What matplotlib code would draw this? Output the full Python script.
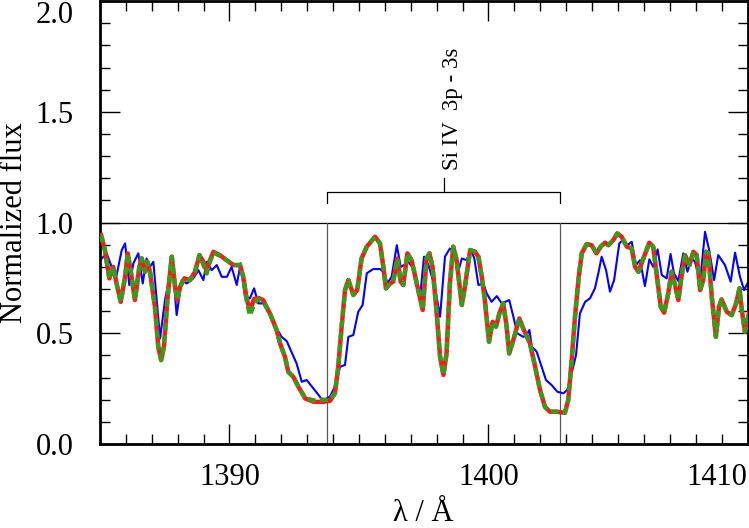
import numpy as np
import matplotlib
matplotlib.use("Agg")
import matplotlib.pyplot as plt
from matplotlib.ticker import MultipleLocator, FixedLocator

# observed spectrum (blue)
obs_wave = [1385.0, 1385.26, 1385.45, 1385.62, 1385.84, 1385.97, 1386.13, 1386.29, 1386.48, 1386.65,
            1386.80, 1386.93, 1387.06, 1387.32, 1387.51, 1387.70, 1387.83, 1387.96, 1388.15, 1388.35,
            1388.60, 1388.80, 1388.99, 1389.12, 1389.31, 1389.51, 1389.70, 1389.90, 1390.08, 1390.28,
            1390.43, 1390.60, 1390.79, 1390.95, 1391.11, 1391.30, 1391.56, 1391.82, 1392.01, 1392.21,
            1392.34, 1392.59, 1392.79, 1392.98, 1393.24, 1393.49, 1393.62, 1393.75, 1393.88, 1394.07,
            1394.27, 1394.46, 1394.59, 1394.78, 1394.97, 1395.14, 1395.30, 1395.55, 1395.81, 1396.00,
            1396.09, 1396.26, 1396.46, 1396.61, 1396.74, 1396.90, 1397.10, 1397.36, 1397.51, 1397.68,
            1397.93, 1398.13, 1398.32, 1398.51, 1398.71, 1398.83, 1398.97, 1399.16, 1399.31, 1399.45,
            1399.61, 1399.80, 1399.93, 1400.12, 1400.32, 1400.51, 1400.80, 1400.96, 1401.11, 1401.34,
            1401.47, 1401.58, 1401.67, 1401.86, 1402.05, 1402.22, 1402.44, 1402.66, 1402.89, 1403.04,
            1403.21, 1403.38, 1403.53, 1403.73, 1403.92, 1404.11, 1404.24, 1404.37, 1404.54, 1404.69,
            1404.85, 1405.05, 1405.21, 1405.36, 1405.53, 1405.69, 1405.85, 1406.04, 1406.21, 1406.36,
            1406.53, 1406.69, 1406.88, 1407.03, 1407.16, 1407.33, 1407.52, 1407.68, 1407.85, 1407.97,
            1408.17, 1408.36, 1408.52, 1408.71, 1408.87, 1409.13, 1409.35, 1409.52, 1409.71, 1409.87,
            1410.06]
obs_flux = [0.83, 0.86, 0.80, 0.75, 0.876, 0.906, 0.718, 0.816, 0.861, 0.725,
            0.838, 0.80, 0.823, 0.477, 0.65, 0.763, 0.763, 0.582, 0.74, 0.725,
            0.748, 0.785, 0.74, 0.823, 0.785, 0.808, 0.755, 0.755, 0.80, 0.718,
            0.816, 0.665, 0.658, 0.703, 0.635, 0.635, 0.582, 0.522, 0.484, 0.465,
            0.43, 0.364, 0.281, 0.289, 0.251, 0.214, 0.184, 0.206, 0.214, 0.259,
            0.349, 0.357, 0.484, 0.492, 0.597, 0.628, 0.771, 0.79, 0.79, 0.771,
            0.725, 0.755, 0.898, 0.80, 0.808, 0.823, 0.793, 0.665, 0.846, 0.808,
            0.71, 0.575, 0.846, 0.883, 0.861, 0.778, 0.838, 0.83, 0.876, 0.84,
            0.718, 0.725, 0.68, 0.642, 0.668, 0.635, 0.65, 0.575, 0.50, 0.484,
            0.492, 0.515, 0.44, 0.417, 0.349, 0.289, 0.266, 0.236, 0.229, 0.244,
            0.319, 0.402, 0.59, 0.642, 0.658, 0.703, 0.771, 0.846, 0.785, 0.688,
            0.74, 0.906, 0.924, 0.898, 0.913, 0.808, 0.83, 0.713, 0.834, 0.80,
            0.879, 0.763, 0.748, 0.858, 0.771, 0.736, 0.861, 0.778, 0.838, 0.823,
            0.733, 0.958, 0.876, 0.74, 0.853, 0.808, 0.733, 0.864, 0.755, 0.695,
            0.74]

# model spectra (red and green dashed)
mod_wave = [1385.04, 1385.19, 1385.36, 1385.51, 1385.64, 1385.80, 1385.97, 1386.07, 1386.19, 1386.35,
            1386.52, 1386.61, 1386.74, 1386.83, 1386.93, 1387.12, 1387.25, 1387.36, 1387.47, 1387.60,
            1387.77, 1387.90, 1387.99, 1388.09, 1388.26, 1388.47, 1388.67, 1388.84, 1388.99, 1389.12,
            1389.22, 1389.38, 1389.63, 1389.89, 1390.15, 1390.41, 1390.53, 1390.66, 1390.79, 1390.95,
            1391.11, 1391.30, 1391.56, 1391.82, 1391.95, 1392.14, 1392.27, 1392.46, 1392.66, 1392.92,
            1393.24, 1393.56, 1393.88, 1394.07, 1394.20, 1394.33, 1394.46, 1394.59, 1394.78, 1394.93,
            1395.10, 1395.30, 1395.62, 1395.81, 1395.94, 1396.04, 1396.20, 1396.32, 1396.48, 1396.61,
            1396.71, 1396.87, 1397.03, 1397.23, 1397.46, 1397.61, 1397.72, 1397.84, 1398.00, 1398.13,
            1398.26, 1398.38, 1398.51, 1398.64, 1398.77, 1398.97, 1399.09, 1399.29, 1399.48, 1399.61,
            1399.74, 1399.86, 1400.02, 1400.16, 1400.29, 1400.42, 1400.57, 1400.70, 1400.80, 1400.96,
            1401.19, 1401.34, 1401.60, 1401.80, 1401.99, 1402.18, 1402.37, 1402.63, 1402.95, 1403.08,
            1403.21, 1403.34, 1403.47, 1403.60, 1403.79, 1403.98, 1404.17, 1404.33, 1404.50, 1404.63,
            1404.82, 1404.97, 1405.14, 1405.34, 1405.53, 1405.66, 1405.79, 1405.98, 1406.21, 1406.36,
            1406.52, 1406.65, 1406.78, 1406.94, 1407.07, 1407.20, 1407.33, 1407.46, 1407.59, 1407.76,
            1407.91, 1408.04, 1408.17, 1408.29, 1408.40, 1408.49, 1408.62, 1408.78, 1408.90, 1409.00,
            1409.20, 1409.39, 1409.56, 1409.69, 1409.78, 1409.90, 1410.06]
mod_red = [0.944, 0.876, 0.748, 0.80, 0.725, 0.642, 0.755, 0.861, 0.778, 0.65,
           0.80, 0.838, 0.778, 0.823, 0.778, 0.62, 0.44, 0.379, 0.44, 0.65,
           0.846, 0.71, 0.65, 0.71, 0.748, 0.74, 0.778, 0.853, 0.823, 0.778,
           0.823, 0.868, 0.853, 0.83, 0.808, 0.808, 0.755, 0.66, 0.60, 0.655,
           0.66, 0.65, 0.59, 0.515, 0.455, 0.394, 0.326, 0.304, 0.259, 0.206,
           0.191, 0.19, 0.195, 0.229, 0.349, 0.53, 0.695, 0.74, 0.673, 0.695,
           0.838, 0.891, 0.936, 0.906, 0.80, 0.703, 0.725, 0.733, 0.838, 0.733,
           0.718, 0.861, 0.83, 0.725, 0.605, 0.838, 0.861, 0.80, 0.59, 0.394,
           0.312, 0.409, 0.725, 0.891, 0.83, 0.628, 0.71, 0.876, 0.868, 0.846,
           0.755, 0.65, 0.462, 0.552, 0.53, 0.59, 0.635, 0.53, 0.409, 0.47,
           0.567, 0.522, 0.455, 0.349, 0.244, 0.168, 0.146, 0.146, 0.141, 0.199,
           0.379, 0.575, 0.74, 0.861, 0.903, 0.898, 0.861, 0.891, 0.909, 0.898,
           0.921, 0.951, 0.936, 0.891, 0.883, 0.80, 0.778, 0.838, 0.909, 0.891,
           0.74, 0.62, 0.593, 0.68, 0.778, 0.718, 0.65, 0.763, 0.853, 0.808,
           0.868, 0.853, 0.695, 0.74, 0.868, 0.861, 0.665, 0.484, 0.62, 0.653,
           0.597, 0.582, 0.635, 0.703, 0.605, 0.507, 0.59]
mod_green = [0.944, 0.876, 0.748, 0.80, 0.725, 0.642, 0.755, 0.861, 0.778, 0.65,
             0.80, 0.838, 0.778, 0.823, 0.778, 0.62, 0.44, 0.379, 0.44, 0.65,
             0.846, 0.71, 0.65, 0.71, 0.748, 0.74, 0.778, 0.853, 0.81, 0.77,
             0.815, 0.865, 0.85, 0.83, 0.808, 0.808, 0.755, 0.65, 0.58, 0.635,
             0.655, 0.645, 0.59, 0.515, 0.455, 0.394, 0.326, 0.304, 0.259, 0.208,
             0.197, 0.20, 0.20, 0.229, 0.349, 0.53, 0.695, 0.74, 0.673, 0.695,
             0.838, 0.891, 0.936, 0.906, 0.80, 0.703, 0.725, 0.733, 0.838, 0.733,
             0.718, 0.861, 0.83, 0.725, 0.605, 0.838, 0.861, 0.80, 0.59, 0.394,
             0.312, 0.409, 0.725, 0.891, 0.83, 0.628, 0.71, 0.876, 0.868, 0.846,
             0.755, 0.65, 0.462, 0.552, 0.53, 0.59, 0.635, 0.53, 0.409, 0.47,
             0.567, 0.522, 0.455, 0.349, 0.244, 0.168, 0.146, 0.146, 0.141, 0.199,
             0.379, 0.575, 0.74, 0.861, 0.903, 0.898, 0.861, 0.891, 0.909, 0.898,
             0.921, 0.951, 0.936, 0.891, 0.883, 0.80, 0.778, 0.838, 0.909, 0.891,
             0.74, 0.62, 0.593, 0.68, 0.778, 0.718, 0.65, 0.763, 0.853, 0.808,
             0.868, 0.853, 0.695, 0.74, 0.868, 0.861, 0.665, 0.484, 0.62, 0.653,
             0.597, 0.582, 0.635, 0.703, 0.605, 0.507, 0.59]

# Si IV doublet
line_waves = [1393.76, 1402.77]
line_label = "Si IV  3p - 3s"

x_ticks = [1390, 1400, 1410]
y_ticks = [0.0, 0.5, 1.0, 1.5, 2.0]

plt.rcParams['font.family'] = ['Liberation Serif', 'DejaVu Serif']

fig = plt.figure(figsize=(7.49, 5.28), dpi=100)
ax = fig.add_axes([0.1335, 0.159, 0.998 - 0.1335, 0.998 - 0.159])

ax.axhline(1.0, color='black', lw=0.9, zorder=1)
for w in line_waves:
    ax.plot([w, w], [0, 1.0], color='0.35', lw=0.9, zorder=1)

ax.plot(obs_wave, obs_flux, color='#0000ff', lw=1.5, zorder=2)
ax.plot(mod_wave, mod_red, color='#ff1a1a', lw=3.2, zorder=3)
ax.plot(mod_wave, mod_green, color='#3a9a1a', lw=3.2, ls=(0, (1.7, 1.0)), zorder=4)

# bracket with label
mid = (line_waves[0] + line_waves[1]) / 2
ax.plot([line_waves[0], line_waves[0], line_waves[1], line_waves[1]],
        [1.088, 1.138, 1.138, 1.088], color='black', lw=0.9)
ax.plot([mid, mid], [1.138, 1.20], color='black', lw=0.9)
ax.text(mid + 0.33, 1.237, line_label, rotation=90, ha='center', va='bottom', fontsize=16.5)

ax.set_xlim(1385, 1410)
ax.set_ylim(0, 2.0)
ax.xaxis.set_major_locator(FixedLocator(x_ticks))
ax.xaxis.set_minor_locator(MultipleLocator(1))
ax.yaxis.set_major_locator(FixedLocator(y_ticks))
ax.yaxis.set_minor_locator(MultipleLocator(0.1))
ax.tick_params(which='both', direction='in', top=True, right=True, width=1.0)
ax.tick_params(which='major', length=14.4, labelsize=22)
ax.tick_params(which='minor', length=7.2)
ax.tick_params(axis='y', pad=19)
ax.tick_params(axis='x', pad=14)
for s in ax.spines.values():
    s.set_linewidth(2.0)

ax.set_yticklabels([f'{v:.1f}' for v in y_ticks])
ax.set_xticklabels([str(v) for v in x_ticks])
ax.get_yticklabels()[-1].set_verticalalignment('top')
ax.get_xticklabels()[-1].set_horizontalalignment('right')

ax.set_xlabel('λ / Å', fontsize=22)
ax.set_ylabel('Normalized flux', fontsize=22)
ax.xaxis.set_label_coords(0.5, -0.125)
ax.yaxis.set_label_coords(-0.11, 0.5)

fig.savefig('out.png', dpi=100)
